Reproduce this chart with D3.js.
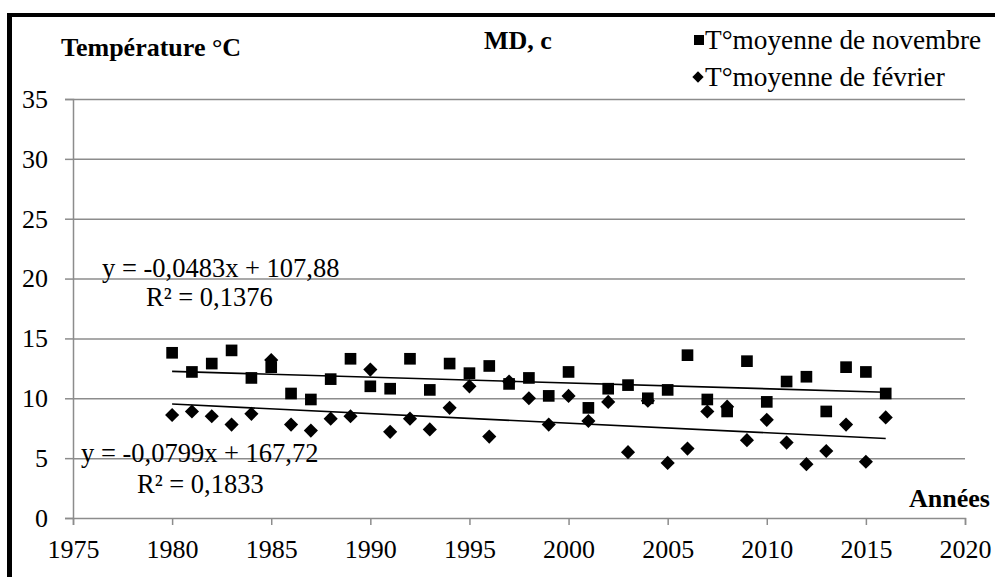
<!DOCTYPE html>
<html>
<head>
<meta charset="utf-8">
<script src="https://cdn.jsdelivr.net/npm/d3@7"></script>
<style>
  html, body { margin: 0; padding: 0; background: #fff; }
  svg, svg text { font-family: "Liberation Serif", Tinos, "Times New Roman", Times, "DejaVu Serif", serif !important; }
</style>
</head>
<body>
<div id="chart"></div>
<script>
// data
const years = [1980, 1981, 1982, 1983, 1984, 1985, 1986, 1987, 1988, 1989,
               1990, 1991, 1992, 1993, 1994, 1995, 1996, 1997, 1998, 1999,
               2000, 2001, 2002, 2003, 2004, 2005, 2006, 2007, 2008, 2009,
               2010, 2011, 2012, 2013, 2014, 2015, 2016];
const novTemp = [13.8, 12.2, 12.9, 14.0, 11.7, 12.6, 10.4, 9.9, 11.6, 13.3,
                 11.0, 10.8, 13.3, 10.7, 12.9, 12.1, 12.7, 11.2, 11.7, 10.2,
                 12.2, 9.2, 10.8, 11.1, 10.0, 10.7, 13.6, 9.9, 8.9, 13.1,
                 9.7, 11.4, 11.8, 8.9, 12.6, 12.2, 10.4];
const febTemp = [8.6, 8.9, 8.5, 7.8, 8.7, 13.2, 7.8, 7.3, 8.3, 8.5,
                 12.4, 7.2, 8.3, 7.4, 9.2, 11.0, 6.8, 11.4, 10.0, 7.8,
                 10.2, 8.1, 9.7, 5.5, 9.8, 4.6, 5.8, 8.9, 9.3, 6.5,
                 8.2, 6.3, 4.5, 5.6, 7.8, 4.7, 8.4];
// linear trend coefficients (slope, intercept) shown on the chart
const novTrend = [-0.0483, 107.88];
const febTrend = [-0.0799, 167.72];
const xTicks = [1975, 1980, 1985, 1990, 1995, 2000, 2005, 2010, 2015, 2020];
const yTicks = [0, 5, 10, 15, 20, 25, 30, 35];
const seriesNames = ["T°moyenne de novembre", "T°moyenne de février"];

const width = 995, height = 577;
const fontSize = 26;
const gridColor = "#8c8c8c";

const svg = d3.select("#chart").append("svg")
    .attr("width", width)
    .attr("height", height);

// scales
const x = d3.scaleLinear().domain([1975, 2020]).range([73, 965]);
const y = d3.scaleLinear().domain([0, 35]).range([518, 99]);

// outer frame (top and left only)
svg.append("rect").attr("x", 7).attr("y", 13).attr("width", width - 7).attr("height", 4).attr("fill", "#000");
svg.append("rect").attr("x", 7).attr("y", 13).attr("width", 5).attr("height", height - 13).attr("fill", "#000");

// horizontal gridlines
svg.append("g")
    .attr("transform", `translate(${x(1975)},0)`)
    .call(d3.axisLeft(y).tickValues(yTicks.filter(d => d > 0)).tickSize(-(x(2020) - x(1975))).tickFormat(""))
    .call(g => g.select(".domain").remove())
    .call(g => g.selectAll("line").attr("stroke", gridColor).attr("stroke-width", 1.5));

// y axis
svg.append("g")
    .attr("transform", `translate(${x(1975)},0)`)
    .call(d3.axisLeft(y).tickValues(yTicks).tickSize(8).tickPadding(17))
    .attr("font-family", null)
    .call(g => g.select(".domain").attr("stroke", gridColor).attr("stroke-width", 1.5))
    .call(g => g.selectAll("line").attr("stroke", gridColor).attr("stroke-width", 1.5))
    .call(g => g.selectAll("text").attr("font-size", fontSize).attr("fill", "#000"));

// x axis
svg.append("g")
    .attr("transform", `translate(0,${y(0)})`)
    .call(d3.axisBottom(x).tickValues(xTicks).tickFormat(d3.format("d")).tickSize(7).tickPadding(15))
    .attr("font-family", null)
    .call(g => g.select(".domain").attr("stroke", gridColor).attr("stroke-width", 1.5))
    .call(g => g.selectAll("line").attr("stroke", gridColor).attr("stroke-width", 1.5))
    .call(g => g.selectAll("text").attr("font-size", fontSize).attr("fill", "#000"));

// markers
const square = d3.symbol(d3.symbolSquare, 136);
const diamond = d3.symbol(d3.symbolSquare, 100);

svg.append("g").selectAll("path")
    .data(years.map((yr, i) => [yr, novTemp[i]]))
    .join("path")
    .attr("d", square)
    .attr("transform", d => `translate(${x(d[0])},${y(d[1])})`)
    .attr("fill", "#000");

svg.append("g").selectAll("path")
    .data(years.map((yr, i) => [yr, febTemp[i]]))
    .join("path")
    .attr("d", diamond)
    .attr("transform", d => `translate(${x(d[0])},${y(d[1])}) rotate(45)`)
    .attr("fill", "#000");

// trend lines
const trendLine = d3.line().x(d => x(d[0])).y(d => y(d[1]));
[novTrend, febTrend].forEach(t => {
    const ends = [years[0], years[years.length - 1]].map(yr => [yr, t[0] * yr + t[1]]);
    svg.append("path")
        .attr("d", trendLine(ends))
        .attr("fill", "none")
        .attr("stroke", "#000")
        .attr("stroke-width", 1.6);
});

// text helper
function label(txt, px, py, opts = {}) {
    return svg.append("text")
        .attr("x", px).attr("y", py)
        .attr("font-size", opts.size || fontSize)
        .attr("font-weight", opts.bold ? "bold" : "normal")
        .attr("text-anchor", opts.anchor || "start")
        .attr("fill", "#000")
        .text(txt);
}

label("Température °C", 61, 56, {bold: true});
label("MD, c", 484, 49, {bold: true});
label("Années", 990, 507, {bold: true, anchor: "end"});

// trend equations
label("y = -0,0483x + 107,88", 102, 277, {size: 26.5});
label("R² = 0,1376", 146, 306, {size: 26.5});
label("y = -0,0799x + 167,72", 81, 462, {size: 26.5});
label("R² = 0,1833", 137, 493, {size: 26.5});

// legend
svg.append("path").attr("d", d3.symbol(d3.symbolSquare, 100)).attr("transform", "translate(699,40)");
label(seriesNames[0], 705, 49, {size: 27.3});
svg.append("path").attr("d", d3.symbol(d3.symbolSquare, 64)).attr("transform", "translate(698,77) rotate(45)");
label(seriesNames[1], 705, 86, {size: 27.3});
</script>
</body>
</html>
